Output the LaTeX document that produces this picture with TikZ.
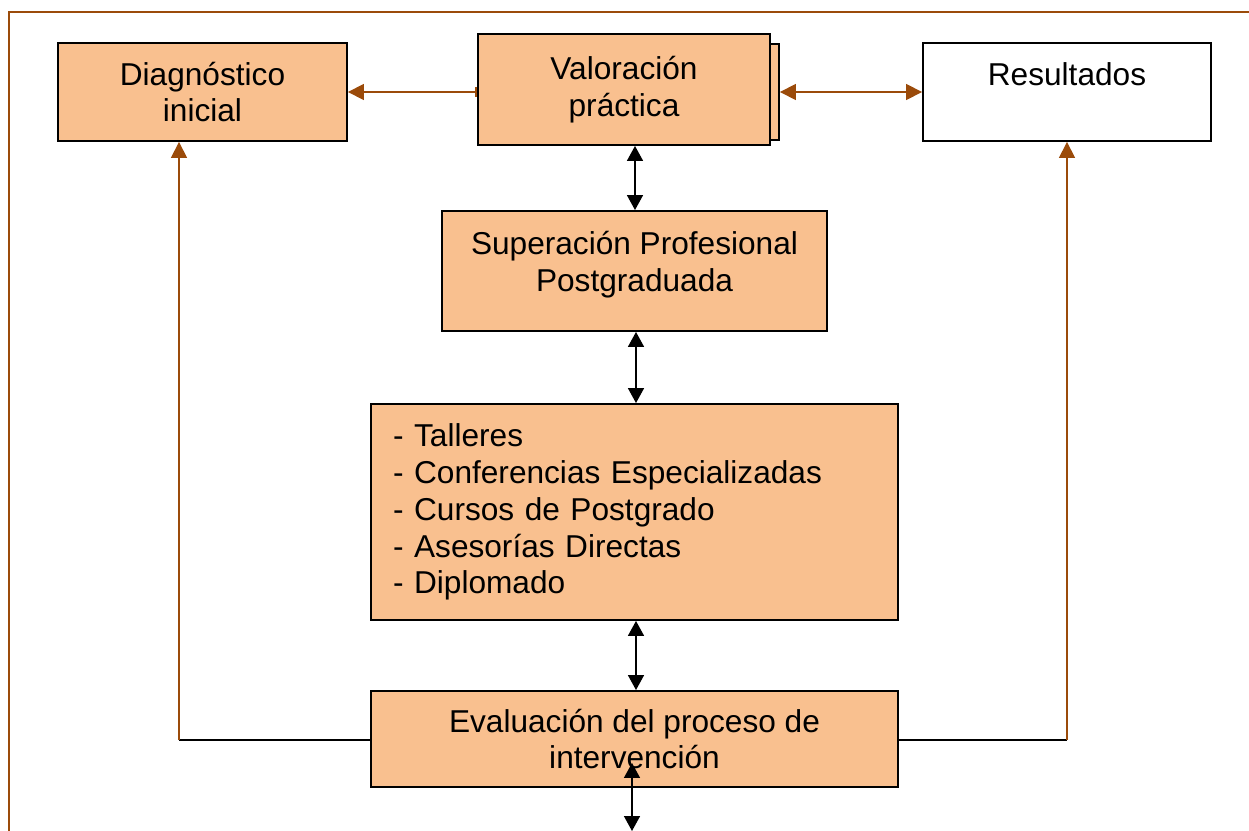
\documentclass[tikz,border=0pt]{standalone}
\usepackage{fontspec}
\setmainfont{Liberation Sans}
\usetikzlibrary{
  positioning,
  arrows.meta,
  backgrounds
}
\definecolor{peach}{RGB}{249,192,143}
\definecolor{rust}{RGB}{155,75,10}

\begin{document}
\begin{tikzpicture}[
    x=0.02cm,y=-0.02cm,
    boxNode/.style={draw,line width=1.1pt,fill=peach,inner sep=0pt,align=center,
      font=\fontsize{18}{21}\selectfont},
    rustLink/.style={rust,line width=0.9pt,{Triangle[length=0.32cm,width=0.32cm]}-{Triangle[length=0.32cm,width=0.32cm]}},
    blackLink/.style={black,line width=0.9pt,{Triangle[length=0.3cm,width=0.32cm]}-{Triangle[length=0.3cm,width=0.32cm]}}
  ]
    \useasboundingbox (0,0) rectangle (1249,831);
    \draw[rust,line width=1.1pt] (9,831) -- (9,12) -- (1249,12);

    % top row
    \node[boxNode,minimum width=5.78cm,minimum height=1.96cm] (diagnostico) at (202.5,92) {Diagn\'ostico\\inicial};
    \node[boxNode,minimum width=5.84cm,minimum height=1.92cm] (valoracionBack) at (633,92) {};
    \node[boxNode,minimum width=5.84cm,minimum height=2.22cm] (valoracion) at (624,89.5) {Valoraci\'on\\pr\'actica};
    \node[boxNode,fill=white,minimum width=5.76cm,minimum height=1.96cm] (resultados) at (1067,92) {Resultados\\\mbox{}};

    \draw[rust,line width=0.9pt,{Triangle[length=0.32cm,width=0.32cm]}-{Bar[width=0.2cm]}] (diagnostico.east) -- (diagnostico.east -| valoracion.west);
    \draw[rustLink] (valoracionBack.east) -- (resultados.west);

    % middle column
    \node[boxNode,minimum width=7.7cm,minimum height=2.4cm] (superacion) at (634.5,271) {Superaci\'on Profesional\\Postgraduada\\[-0.34cm]};
    \node[boxNode,align=left,text width=9.66cm,minimum height=4.32cm,inner xsep=0.44cm] (formas) at (634.5,512) {- Talleres\\- Conferencias Especializadas\\- Cursos de Postgrado\\- Asesor\'ias Directas\\- Diplomado};
    \node[boxNode,minimum width=10.54cm,minimum height=1.92cm] (evaluacion) at (634.5,739) {Evaluaci\'on del proceso de\\intervenci\'on};

    \draw[blackLink] (superacion.north -| 635,0) -- (valoracion.south -| 635,0);
    \draw[blackLink] (formas.north -| 636,0) -- (superacion.south -| 636,0);
    \draw[blackLink] (evaluacion.north -| 636,0) -- (formas.south -| 636,0);

    \coordinate (salidaArriba) at (632,763);
    \coordinate (salidaAbajo) at (632,831);
    \draw[blackLink] (salidaArriba) -- (salidaAbajo);

    % feedback
    \coordinate (esquinaIzq) at (179,740);
    \coordinate (esquinaDer) at (1067,740);
    \draw[black,line width=0.9pt] (evaluacion.west |- esquinaIzq) -- (esquinaIzq);
    \draw[rust,line width=0.9pt,-{Triangle[length=0.32cm,width=0.32cm]}] (esquinaIzq) -- (esquinaIzq |- diagnostico.south);
    \draw[black,line width=0.9pt] (evaluacion.east |- esquinaDer) -- (esquinaDer);
    \draw[rust,line width=0.9pt,-{Triangle[length=0.32cm,width=0.32cm]}] (esquinaDer) -- (resultados.south);
  \end{tikzpicture}
\end{document}
